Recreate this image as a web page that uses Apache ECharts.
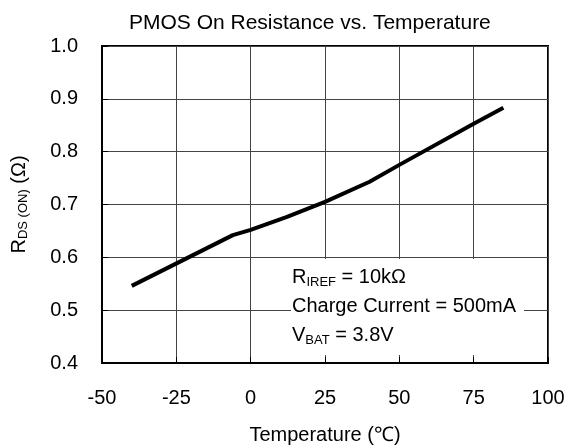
<!DOCTYPE html>
<html>
<head>
<meta charset="utf-8">
<title>PMOS On Resistance vs. Temperature</title>
<script src="https://cdn.jsdelivr.net/npm/echarts@6/dist/echarts.min.js"></script>
<style>
  html, body { margin: 0; padding: 0; background: #fff; }
  #chart { width: 565px; height: 445px; }
</style>
</head>
<body>
<div id="chart"></div>
<script>
// values
var temps = [-40, -6, 0, 12, 25, 40, 50, 75, 85]
var rdsOn = [0.546, 0.642, 0.652, 0.676, 0.705, 0.743, 0.775, 0.853, 0.883]
var xTicks = [-50, -25, 0, 25, 50, 75, 100]
var yTicks = [0.4, 0.5, 0.6, 0.7, 0.8, 0.9, 1.0]

var font = '"Liberation Sans", Arial, sans-serif'
var chart = echarts.init(document.getElementById('chart'))

chart.setOption({
  animation: false,
  textStyle: { fontFamily: font, color: '#000' },
  title: {
    text: 'PMOS On Resistance vs. Temperature',
    left: 124,
    top: 8,
    textStyle: { fontFamily: font, fontSize: 21, fontWeight: 'normal', color: '#000' }
  },
  grid: {
    left: 102,
    top: 46,
    right: 17,
    bottom: 82,
    outerBoundsMode: 'none',
    containLabel: false,
    show: true,
    borderColor: '#000',
    borderWidth: 2
  },
  xAxis: {
    type: 'value',
    min: xTicks[0],
    max: xTicks[xTicks.length - 1],
    interval: 25,
    name: 'Temperature (℃)',
    nameLocation: 'middle',
    nameGap: 62,
    nameTextStyle: { fontFamily: font, fontSize: 20, color: '#000' },
    axisLine: { onZero: false, lineStyle: { color: '#000', width: 2 } },
    axisTick: { inside: true, length: 6, lineStyle: { color: '#000' } },
    axisLabel: { fontFamily: font, fontSize: 20, color: '#000', margin: 25 },
    splitLine: { lineStyle: { color: '#444', width: 1 } }
  },
  yAxis: {
    type: 'value',
    min: yTicks[0],
    max: yTicks[yTicks.length - 1],
    interval: 0.1,
    name: '{m|R}{s|DS (ON)}{m| (Ω)}',
    nameLocation: 'middle',
    nameGap: 72,
    nameRotate: 90,
    nameTextStyle: {
      rich: {
        m: { fontFamily: font, fontSize: 20, color: '#000' },
        s: { fontFamily: font, fontSize: 13, color: '#000', padding: [8, 0, 0, 0] }
      }
    },
    axisLine: { onZero: false, lineStyle: { color: '#000', width: 2 } },
    axisTick: { inside: true, length: 6, lineStyle: { color: '#000' } },
    axisLabel: {
      fontFamily: font,
      fontSize: 20,
      color: '#000',
      margin: 24,
      formatter: function (v) { return v.toFixed(1) }
    },
    splitLine: { lineStyle: { color: '#444', width: 1 } }
  },
  graphic: [{
    type: 'text',
    left: 291,
    top: 259,
    z: 10,
    style: {
      text: '{m|R}{s|IREF}{m| = 10kΩ}\n{m|Charge Current = 500mA}\n{m|V}{s|BAT}{m| = 3.8V}',
      backgroundColor: '#fff',
      padding: [4, 8, 5, 1],
      rich: {
        m: { fontFamily: font, fontSize: 20, color: '#000', lineHeight: 29 },
        s: { fontFamily: font, fontSize: 13, color: '#000', lineHeight: 29, padding: [10, 0, 0, 0] }
      }
    }
  }],
  series: [{
    name: 'RDS(ON)',
    type: 'line',
    showSymbol: false,
    lineStyle: { color: '#000', width: 4 },
    data: temps.map(function (t, i) { return [t, rdsOn[i]] })
  }]
})
</script>
</body>
</html>
